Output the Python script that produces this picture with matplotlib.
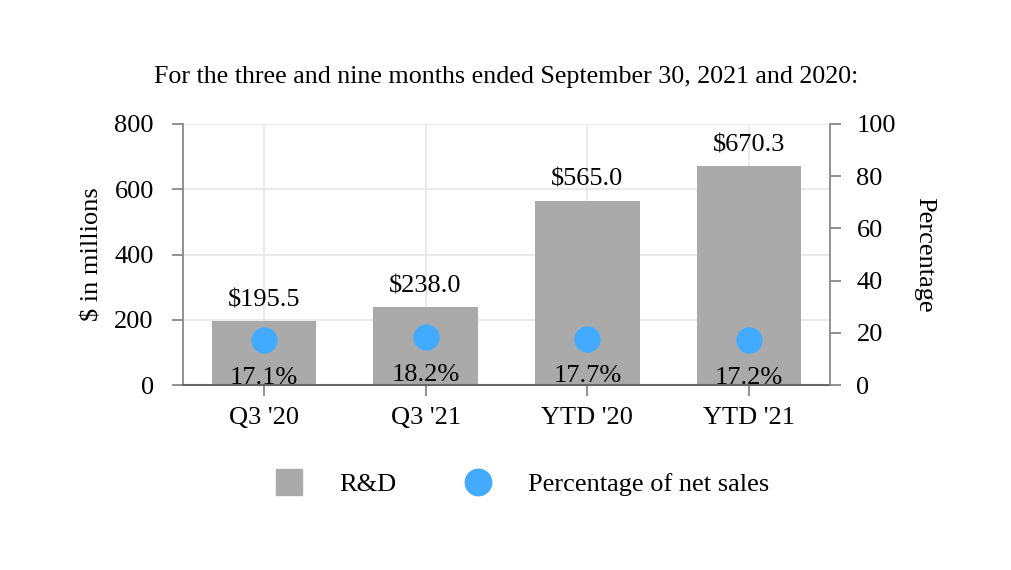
import matplotlib
matplotlib.use("Agg")
import matplotlib.pyplot as plt
from matplotlib.lines import Line2D

categories = ["Q3 '20", "Q3 '21", "YTD '20", "YTD '21"]
rd_values = [195.5, 238.0, 565.0, 670.3]
pct_values = [17.1, 18.2, 17.7, 17.2]
left_ticks = [0, 200, 400, 600, 800]
right_ticks = [0, 20, 40, 60, 80, 100]

plt.rcParams['font.family'] = ['Liberation Serif', 'DejaVu Serif']
BAR = '#aaaaaa'
DOT = '#42aaff'
FS = 19

fig = plt.figure(figsize=(10.12, 5.70), dpi=100)
W, H = 1012, 570
ax = fig.add_axes([183 / W, 1 - 385 / H, (830 - 183) / W, (385 - 124) / H])
ax2 = ax.twinx()

x = list(range(len(categories)))
ax.bar(x, rd_values, width=0.645, color=BAR, zorder=2)
ax.set_xlim(-0.5, 3.5)
ax.set_ylim(0, 800)
ax.set_yticks(left_ticks)
ax.set_xticks(x)
ax.set_xticklabels(categories)
ax.grid(True, color='#e6e6e6', linewidth=1.2, zorder=0)
ax.set_axisbelow(True)
for s in ['top', 'right']:
    ax.spines[s].set_visible(False)
ax.spines['left'].set_color('#888888')
ax.spines['left'].set_linewidth(1.3)
ax.spines['bottom'].set_color('#666666')
ax.spines['bottom'].set_linewidth(1.5)
ax.tick_params(axis='both', length=8, width=1.3, color='#888888', labelsize=FS)
ax.tick_params(axis='y', pad=13)
ax.tick_params(axis='x', pad=8)
ax.set_ylabel('$ in millions', fontsize=FS, labelpad=8)

for xi, v in zip(x, rd_values):
    ax.annotate(f'${v:.1f}', (xi, v), xytext=(0, 7), textcoords='offset points',
                ha='center', va='bottom', fontsize=FS)

ax2.set_ylim(0, 100)
ax2.set_yticks(right_ticks)
ax2.scatter(x, pct_values, s=360, color=DOT, zorder=5, linewidths=0)
for xi, p in zip(x, pct_values):
    ax2.annotate(f'{p:.1f}%', (xi, p), xytext=(0, -27), textcoords='offset points',
                 ha='center', va='center', fontsize=FS)
for s in ['top', 'left', 'bottom']:
    ax2.spines[s].set_visible(False)
ax2.spines['right'].set_color('#888888')
ax2.spines['right'].set_linewidth(1.3)
ax2.tick_params(axis='y', length=8, width=1.3, color='#888888', labelsize=FS, pad=11)
ax2.set_ylabel('Percentage', fontsize=FS, rotation=270, labelpad=28)

fig.text(0.5, 1 - 77 / H, 'For the three and nine months ended September 30, 2021 and 2020:',
         ha='center', va='center', fontsize=18.7)

handles = [Line2D([], [], marker='s', linestyle='none', markersize=19, color=BAR),
           Line2D([], [], marker='o', linestyle='none', markersize=19, color=DOT)]
fig.legend(handles, ['R&D', 'Percentage of net sales'], loc='center',
           bbox_to_anchor=(516 / W, 1 - 484 / H), ncol=2, frameon=False, fontsize=FS,
           handlelength=2, handletextpad=0.9, columnspacing=2.1, borderpad=0)

fig.savefig('out.png', dpi=100)
